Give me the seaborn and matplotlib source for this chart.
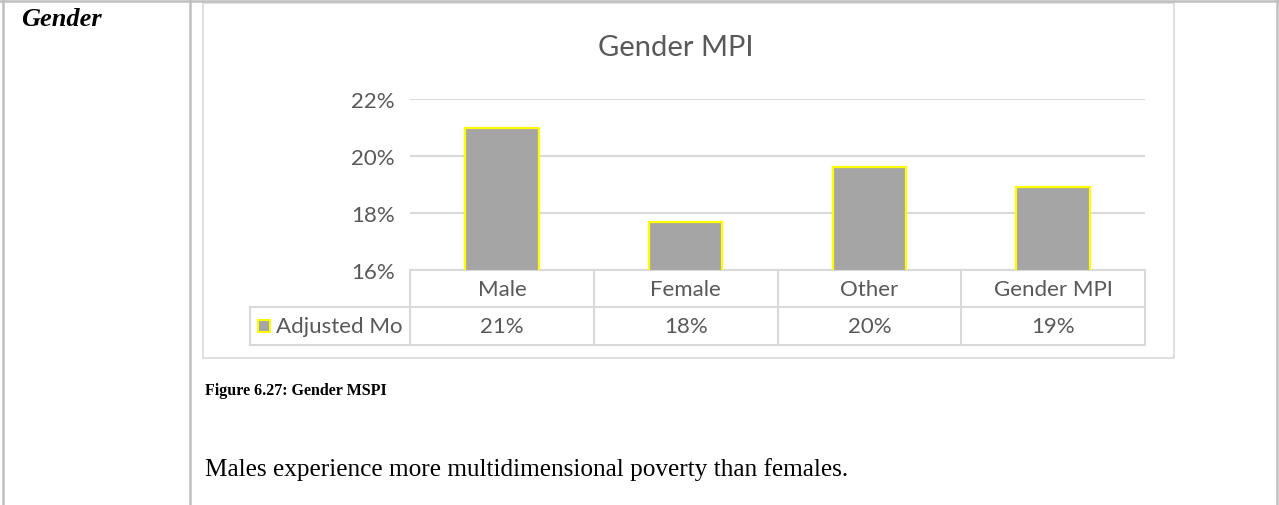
import seaborn as sns
import matplotlib.pyplot as plt
from matplotlib.patches import Rectangle

# data
categories = ["Male", "Female", "Other", "Gender MPI"]
values = [21.0, 17.7, 19.6, 18.9]
series_name = "Adjusted Mo"
y_ticks = [16, 18, 20, 22]

W, H = 1279, 506
bar_gray = "#A5A5A5"
bar_edge = "#FFFF00"
grid_col = "#D9D9D9"
txt_col = "#595959"
chart_font = "Lato"
doc_font = "Liberation Serif"
fs = 16  # chart text size

sns.set_theme(style="white")
plt.rcParams['font.family'] = [chart_font, 'DejaVu Sans']

fig = plt.figure(figsize=(W / 100, H / 100), dpi=100)

# page overlay in pixel coordinates (borders, table, captions)
ov = fig.add_axes([0, 0, 1, 1], zorder=0)
ov.set_xlim(0, W)
ov.set_ylim(H, 0)
ov.axis("off")

page_line = "#BFBFBF"
ov.plot([0, W], [1.5, 1.5], color=page_line, lw=1.8)
ov.plot([2.5, 2.5], [0, H], color=page_line, lw=1.8)
ov.plot([190, 190], [0, H], color=page_line, lw=1.8)
ov.plot([1277, 1277], [0, H], color=page_line, lw=1.8)

# chart frame
ov.add_patch(Rectangle((203, 4), 971, 355, fill=False, ec=grid_col, lw=1.2))

ov.text(21, 19, "Gender", family=doc_font, fontsize=19, fontweight="bold",
        fontstyle="italic", color="black", va="center", ha="left")
ov.text(676, 48, "Gender MPI", fontsize=21, color=txt_col, va="center", ha="center")

# data table under the plot
x0, cw = 410, 183.75
r0, r1, r2 = 271, 308, 346
leg_x = 250
ov.plot([x0, x0 + 4 * cw], [r0, r0], color=grid_col, lw=1.5)
ov.plot([leg_x, x0 + 4 * cw], [r1, r1], color=grid_col, lw=1.5)
ov.plot([leg_x, x0 + 4 * cw], [r2, r2], color=grid_col, lw=1.5)
ov.plot([leg_x, leg_x], [r1, r2], color=grid_col, lw=1.5)
for i in range(5):
    ov.plot([x0 + i * cw] * 2, [r0, r2], color=grid_col, lw=1.5)
for i, (c, v) in enumerate(zip(categories, values)):
    cx = x0 + (i + 0.5) * cw
    ov.text(cx, (r0 + r1) / 2, c, fontsize=fs, color=txt_col, ha="center", va="center")
    ov.text(cx, (r1 + r2) / 2, f"{round(v)}%", fontsize=fs, color=txt_col,
            ha="center", va="center")
ov.add_patch(Rectangle((258, 321), 12, 12, fc=bar_gray, ec=bar_edge, lw=1.5))
ov.text(276, (r1 + r2) / 2, series_name, fontsize=fs, color=txt_col,
        ha="left", va="center")

ov.text(205, 391, "Figure 6.27: Gender MSPI", family=doc_font, fontsize=11.5,
        fontweight="bold", color="black", ha="left", va="center")
ov.text(205, 470, "Males experience more multidimensional poverty than females.",
        family=doc_font, fontsize=18.2, color="black", ha="left", va="center")

# bar plot area
ax = fig.add_axes([x0 / W, (H - r0) / H, 4 * cw / W, (r0 - 100) / H], zorder=1)
ax.set_facecolor("none")
sns.barplot(x=categories, y=values, ax=ax, color=bar_gray, saturation=1,
            edgecolor=bar_edge, linewidth=1.6, width=0.4, zorder=3)
ax.set_ylim(16, 22)
ax.set_yticks(y_ticks)
ax.set_yticklabels([f"{t}%" for t in y_ticks], fontsize=fs, color=txt_col)
ax.yaxis.grid(True, color=grid_col, lw=1.5)
ax.set_axisbelow(True)
ax.set_xticks([])
ax.set_xlabel("")
ax.set_ylabel("")
ax.tick_params(axis="y", length=0, pad=11)
for s in ax.spines.values():
    s.set_visible(False)

fig.savefig("out.png", dpi=100)
